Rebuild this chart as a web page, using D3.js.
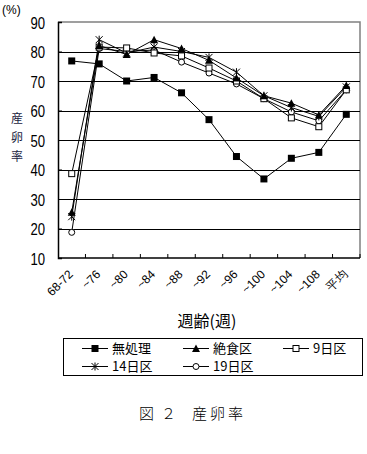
<!DOCTYPE html>
<html><head><meta charset="utf-8">
<script src="https://cdn.jsdelivr.net/npm/d3@7"></script>
<style>body{margin:0;background:#fff}svg{display:block}</style>
</head><body>
<script>
const categories = ["68-72","~76","~80","~84","~88","~92","~96","~100","~104","~108","平均"];
const yTicks = [10,20,30,40,50,60,70,80,90];
const seriesNames = ["無処理","絶食区","9日区","14日区","19日区"];
const mushori = [76.8,75.8,70,71.2,66,56.9,44.4,36.8,43.8,45.8,58.7];
const zesshoku = [25.5,82,79,84,81,77,71,65,62.5,58.5,68.5];
const day9 = [38.6,81.5,81.2,79.5,78.5,74.4,70,64,57.5,54.5,67];
const day14 = [24,84,79.5,81.5,80,78,73,65,61,58,68];
const day19 = [18.7,81,80,80.5,76.4,72.7,69,64,59.5,56.5,67];
const seriesValues = [mushori, zesshoku, day9, day14, day19];
const markers = ["fsquare","ftriangle","osquare","asterisk","ocircle"];

const W=367,H=454;
const svg=d3.select("body").append("svg").attr("width",W).attr("height",H);
const x=d3.scaleBand().domain(categories).range([58,360]);
const y=d3.scaleLinear().domain([10,90]).range([258,22]);

svg.append("path").attr("d",`M${x.range()[0]},${y(90)}H${x.range()[1]}V${y(10)}`)
  .attr("fill","none").attr("stroke","#808080").attr("stroke-width",1.5);
svg.append("g").selectAll("line").data(yTicks.filter(d=>d>10&&d<90)).join("line")
  .attr("x1",58).attr("x2",360).attr("y1",d=>Math.round(y(d))+0.5).attr("y2",d=>Math.round(y(d))+0.5)
  .attr("stroke","#000").attr("stroke-width",1.2);

const yAxis=d3.axisLeft(y).tickValues(yTicks).tickSize(-4).tickPadding(14).tickFormat(d3.format("d"));
const gy=svg.append("g").attr("transform","translate(58,0)").call(yAxis);
gy.select(".domain").attr("stroke","#000").attr("stroke-width",1.5);
gy.selectAll(".tick line").attr("stroke","#000");
gy.selectAll(".tick text").attr("font-family","Liberation Sans, Arial, sans-serif").attr("font-size",16)
  .attr("fill","#000").attr("text-anchor","end").attr("x",0)
  .attr("transform","translate(-13,1) scale(0.82,1)");

const gx=svg.append("g").attr("transform",`translate(0,${y(10)})`);
gx.append("line").attr("x1",58).attr("x2",360).attr("stroke","#000").attr("stroke-width",1.5);
const bounds=categories.map((c,i)=>x(c)+x.bandwidth()).slice(0,-1).concat([x.range()[1]]);
gx.selectAll(".tk").data(bounds).join("line").attr("class","tk")
  .attr("x1",d=>d).attr("x2",d=>d).attr("y1",0).attr("y2",-4).attr("stroke","#000");
gx.selectAll(".lab").data(categories).join("text").attr("class","lab")
  .attr("transform",d=>`translate(${x(d)+x.bandwidth()/2-1},${14}) rotate(-45)`)
  .attr("text-anchor","end").attr("dy","0.35em")
  .attr("font-family","Liberation Sans, Arial, sans-serif").attr("font-size",12).text(d=>d);

const line=d3.line().x((d,i)=>x(categories[i])+x.bandwidth()/2).y(d=>y(d));
function drawMarker(g,type,cx,cy){
  if(type==="fsquare") g.append("rect").attr("x",cx-3.5).attr("y",cy-3.5).attr("width",7).attr("height",7).attr("fill","#000");
  else if(type==="ftriangle") g.append("path").attr("d",`M${cx},${cy-4}L${cx+4},${cy+3.5}L${cx-4},${cy+3.5}Z`).attr("fill","#000");
  else if(type==="osquare") g.append("rect").attr("x",cx-3).attr("y",cy-3).attr("width",6).attr("height",6).attr("fill","#fff").attr("stroke","#000");
  else if(type==="ocircle") g.append("circle").attr("cx",cx).attr("cy",cy).attr("r",3).attr("fill","#fff").attr("stroke","#000");
  else if(type==="asterisk"){
    g.append("path").attr("d",`M${cx-3.5},${cy-3.5}L${cx+3.5},${cy+3.5}M${cx+3.5},${cy-3.5}L${cx-3.5},${cy+3.5}M${cx},${cy-4}V${cy+4}`)
     .attr("stroke","#000").attr("fill","none");
  }
}
const order=[4,3,2,1,0];
order.forEach(si=>{
  svg.append("path").attr("d",line(seriesValues[si])).attr("fill","none").attr("stroke","#000").attr("stroke-width",1);
});
order.forEach(si=>{
  const g=svg.append("g");
  seriesValues[si].forEach((v,i)=>drawMarker(g,markers[si],x(categories[i])+x.bandwidth()/2,y(v)));
});

svg.append("text").attr("x",2).attr("y",14).attr("font-family","Liberation Sans, Arial, sans-serif").attr("font-size",12).text("(%)");
const yt=svg.append("text").attr("font-family","Noto Sans CJK JP").attr("font-size",12).attr("text-anchor","middle").attr("fill","#1a1a40");
["産","卵","率"].forEach((c,i)=>yt.append("tspan").attr("x",17).attr("y",123+i*19).text(c));
svg.append("text").attr("x",207).attr("y",327).attr("text-anchor","middle").attr("font-family","Noto Sans CJK JP").attr("font-size",16).text("週齢(週)");

svg.append("rect").attr("x",63.5).attr("y",338.5).attr("width",299).attr("height",37).attr("fill","#fff").attr("stroke","#000");
const lpos=[[82,348],[183,348],[283,348],[82,366],[183,366]];
seriesNames.forEach((n,i)=>{
  const [lx,ly]=lpos[i];
  const g=svg.append("g");
  g.append("line").attr("x1",lx).attr("x2",lx+26).attr("y1",ly+0.5).attr("y2",ly+0.5).attr("stroke","#000");
  drawMarker(g,markers[i],lx+13,ly+0.5);
  g.append("text").attr("x",lx+30).attr("y",ly+5).attr("font-family","Noto Sans CJK JP").attr("font-size",13).text(n);
});
const cap=svg.append("text").attr("y",419).attr("font-family","Noto Sans CJK JP").attr("font-size",15).attr("font-weight",300);
cap.append("tspan").attr("x",139).text("図");
cap.append("tspan").attr("x",161).text("２");
cap.append("tspan").attr("x",192).attr("letter-spacing",3).text("産卵率");
</script>
</body></html>
